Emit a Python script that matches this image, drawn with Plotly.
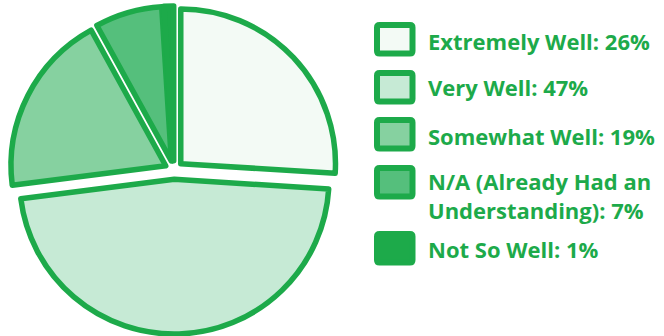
import plotly.graph_objects as go

labels = ["Extremely Well", "Very Well", "Somewhat Well",
          "N/A (Already Had an Understanding)", "Not So Well"]
values = [26, 47, 19, 7, 1]
legend_texts = ["Extremely Well: 26%", "Very Well: 47%", "Somewhat Well: 19%",
                "N/A (Already Had an<br>Understanding): 7%", "Not So Well: 1%"]
fills = ["#F3FAF5", "#C6EAD5", "#86D1A0", "#55BF7C", "#1DAA4A"]
GREEN = "#1DAA4A"

W, H = 664, 336
PULL = 0.06

fig = go.Figure(go.Pie(
    labels=labels, values=values, sort=False, direction="clockwise", rotation=0,
    pull=[PULL] * len(values),
    marker=dict(colors=fills, line=dict(color=GREEN, width=5.5)),
    textinfo="none", hoverinfo="label+percent", showlegend=False,
    domain=dict(x=[10 / W, 338 / W], y=[1 - 334 / H, 1 - 6 / H]),
))

def px(x):
    return x / W

def py(y):
    return 1 - y / H

# custom legend
box_tops = [22, 70, 117, 165, 231]
box_w, box_h, lw = 41.5, 34.5, 6
text_mid = [41, 87, 135.5, 195.6, 249]
shapes, annos = [], []
for i, top in enumerate(box_tops):
    x0, x1 = 374 + lw / 2, 374 + box_w - lw / 2
    y0, y1 = top + lw / 2, top + box_h - lw / 2
    rr = 2.5
    path = (f"M {px(x0+rr)},{py(y0)} L {px(x1-rr)},{py(y0)} Q {px(x1)},{py(y0)} {px(x1)},{py(y0+rr)} "
            f"L {px(x1)},{py(y1-rr)} Q {px(x1)},{py(y1)} {px(x1-rr)},{py(y1)} "
            f"L {px(x0+rr)},{py(y1)} Q {px(x0)},{py(y1)} {px(x0)},{py(y1-rr)} "
            f"L {px(x0)},{py(y0+rr)} Q {px(x0)},{py(y0)} {px(x0+rr)},{py(y0)} Z")
    shapes.append(dict(type="path", xref="paper", yref="paper", path=path,
                       fillcolor=fills[i], line=dict(color=GREEN, width=lw)))
    annos.append(dict(xref="paper", yref="paper", x=px(426), y=py(text_mid[i]),
                      xanchor="left", yanchor="middle", align="left", showarrow=False,
                      text=legend_texts[i],
                      font=dict(family="Open Sans", size=22, color=GREEN, weight=700)))

fig.update_layout(
    width=W, height=H, margin=dict(l=0, r=0, t=0, b=0),
    paper_bgcolor="white", plot_bgcolor="white",
    shapes=shapes, annotations=annos,
)
fig.write_html("out.html")
